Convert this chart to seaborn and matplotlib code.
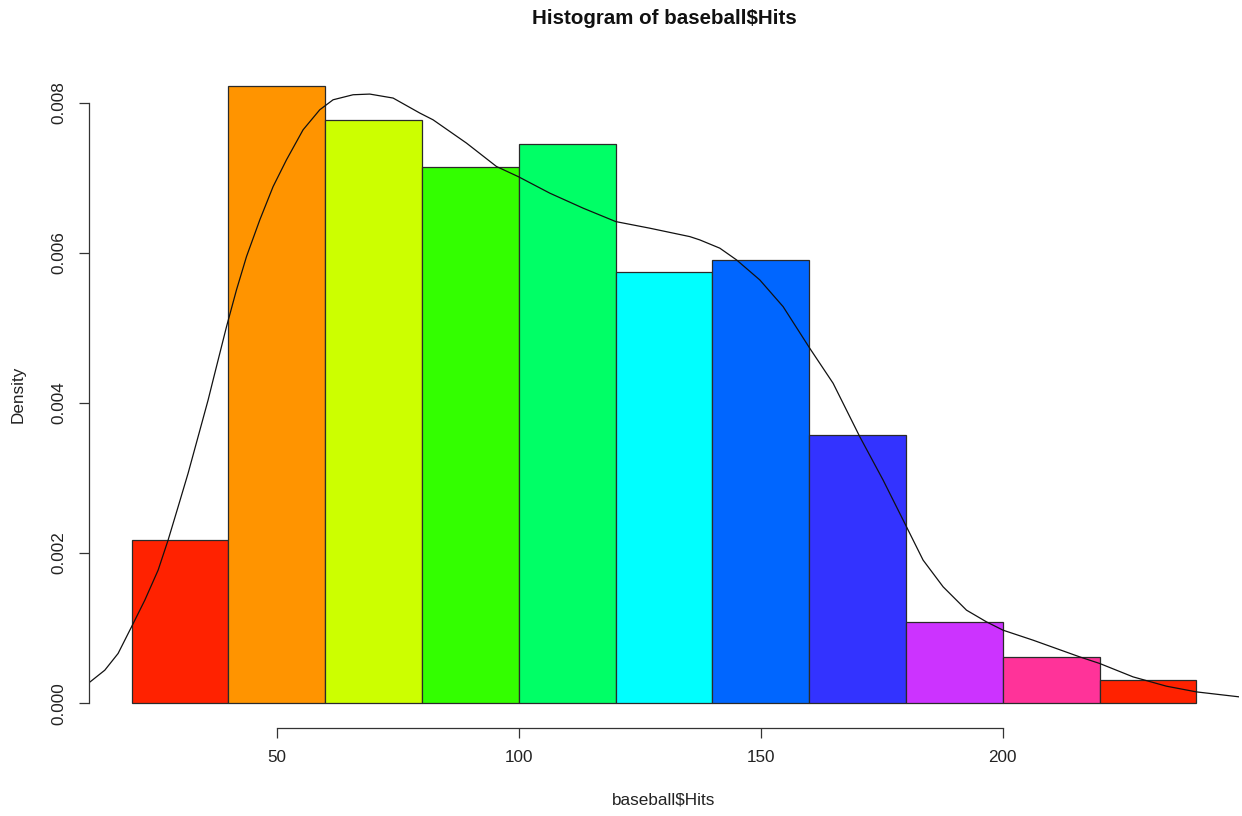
import numpy as np
import pandas as pd
import matplotlib
matplotlib.use("Agg")
import matplotlib.pyplot as plt
import seaborn as sns

# ---- data ----
bin_edges = [20, 40, 60, 80, 100, 120, 140, 160, 180, 200, 220, 240]
bin_counts = [14, 53, 50, 46, 48, 37, 38, 23, 7, 4, 2]
bar_colors = ["#FF2200", "#FF9400", "#CCFF00", "#33FF00", "#00FF66", "#00FFFF",
              "#0066FF", "#3333FF", "#CC33FF", "#FF3399", "#FF2200"]

kde_x = [11.01, 14.46, 17.21, 19.98, 22.73, 25.48, 27.54, 29.61, 31.67, 33.74,
         35.81, 36.84, 39.61, 41.67, 43.74, 46.49, 49.24, 52.00, 55.43, 58.88,
         61.63, 65.76, 69.21, 74.03, 79.55, 82.29, 89.19, 95.39, 99.86, 106.40,
         113.29, 120.04, 127.07, 135.33, 137.40, 141.53, 144.98, 149.79, 154.61,
         160.12, 164.94, 170.45, 175.27, 180.10, 183.53, 187.67, 192.50, 196.63,
         200.06, 206.26, 215.91, 220.04, 226.92, 233.82, 240.02, 248.97]
kde_y = [0.000263, 0.000440, 0.000663, 0.001017, 0.001373, 0.001773, 0.002173,
         0.002617, 0.003063, 0.003551, 0.004040, 0.004307, 0.005017, 0.005507,
         0.005951, 0.006440, 0.006884, 0.007240, 0.007640, 0.007907, 0.008040,
         0.008107, 0.008116, 0.008063, 0.007863, 0.007773, 0.007463, 0.007151,
         0.007017, 0.006796, 0.006596, 0.006417, 0.006329, 0.006217, 0.006173,
         0.006063, 0.005907, 0.005640, 0.005284, 0.004729, 0.004263, 0.003551,
         0.002973, 0.002351, 0.001907, 0.001551, 0.001240, 0.001084, 0.000973,
         0.000840, 0.000617, 0.000529, 0.000351, 0.000227, 0.000151, 0.000084]

x_ticks = [50, 100, 150, 200]
y_ticks = [0.000, 0.002, 0.004, 0.006, 0.008]

title = r"Histogram of baseball\$Hits"
xlabel = r"baseball\$Hits"
ylabel = "Density"

# ---- plotting ----
sns.set_style("white")
plt.rcParams["font.family"] = ["Liberation Sans", "DejaVu Sans"]

fig = plt.figure(figsize=(12.42, 8.16), dpi=100)
ax = fig.add_axes([89 / 1242, 1 - 728 / 816, 1150 / 1242, 668 / 816])

centers = [(a + b) / 2 for a, b in zip(bin_edges[:-1], bin_edges[1:])]
df = pd.DataFrame({"x": centers, "w": bin_counts})
sns.histplot(data=df, x="x", weights="w", bins=bin_edges, stat="density",
             ax=ax, edgecolor="#2a2a2a", linewidth=0.9, alpha=1)
for patch, c in zip(ax.patches, bar_colors):
    patch.set_facecolor(c)

sns.lineplot(x=kde_x, y=kde_y, ax=ax, color="#111111", linewidth=0.9, sort=True)

ax.set_xlim(11.2, 248.8)
ax.set_ylim(-0.00033, 0.00857)
ax.set_xticks(x_ticks)
ax.set_yticks(y_ticks)
ax.set_xticklabels([str(v) for v in x_ticks])
ax.set_yticklabels([f"{v:.3f}" for v in y_ticks], rotation=90, va="center")
ax.set_xlabel("")
ax.set_ylabel("")

for s in ["top", "right"]:
    ax.spines[s].set_visible(False)
ax.spines["left"].set_bounds(0, 0.008)
ax.spines["bottom"].set_bounds(50, 200)
for s in ["left", "bottom"]:
    ax.spines[s].set_color("#333333")
    ax.spines[s].set_linewidth(0.9)

ax.tick_params(axis="both", which="both", direction="out", length=7, width=0.9,
               color="#333333", labelsize=12.3, labelcolor="#222222", pad=9,
               left=True, bottom=True)

fig.text(664 / 1242, 1 - 18 / 816, title, ha="center", va="center",
         fontsize=14.8, fontweight="bold", color="#111111")
fig.text(664 / 1242, 1 - 800 / 816, xlabel, ha="center", va="center",
         fontsize=12.3, color="#222222")
fig.text(18 / 1242, 1 - 394 / 816, ylabel, ha="center", va="center",
         rotation=90, fontsize=12.3, color="#222222")

fig.savefig("out.png", dpi=100, facecolor="white")
